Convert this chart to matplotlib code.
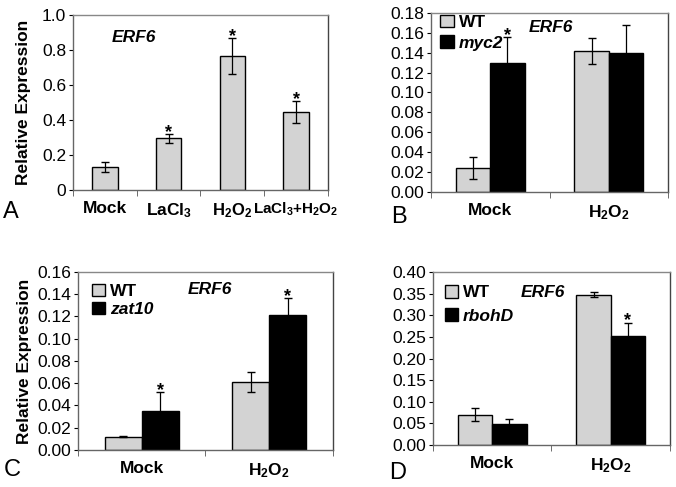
import matplotlib
matplotlib.use("Agg")
import matplotlib.pyplot as plt
import numpy as np

plt.rcParams["font.family"] = "Liberation Sans"
plt.rcParams["mathtext.fontset"] = "custom"
plt.rcParams["mathtext.rm"] = "Liberation Sans"
plt.rcParams["mathtext.bf"] = "Liberation Sans:bold"
plt.rcParams["mathtext.it"] = "Liberation Sans:italic"

GRAY = "#d3d3d3"
TICK_FS = 12.5
CAT_FS = 12.5

# ---- data -----------------------------------------------------------------
a_cats = ["Mock", r"$\mathbf{LaCl_3}$", r"$\mathbf{H_2O_2}$", r"$\mathbf{LaCl_3{+}H_2O_2}$"]
a_vals = [0.13, 0.296, 0.767, 0.443]
a_err = [0.028, 0.025, 0.102, 0.063]
a_star = [False, True, True, True]

pair_cats = ["Mock", r"$\mathbf{H_2O_2}$"]

b_wt, b_wt_err = [0.024, 0.142], [0.011, 0.013]
b_mut, b_mut_err = [0.130, 0.140], [0.026, 0.028]
b_star = [True, False]

c_wt, c_wt_err = [0.012, 0.061], [0.0006, 0.0087]
c_mut, c_mut_err = [0.035, 0.121], [0.017, 0.016]
c_star = [True, True]

d_wt, d_wt_err = [0.0695, 0.348], [0.015, 0.005]
d_mut, d_mut_err = [0.049, 0.251], [0.011, 0.032]
d_star = [False, True]


def style(ax, ncat, ymax, yticks, fmt):
    ax.set_xlim(-0.5, ncat - 0.5)
    ax.set_ylim(0, ymax)
    ax.set_yticks(yticks)
    ax.set_yticklabels([fmt(v) for v in yticks], fontsize=TICK_FS)
    ax.set_xticks(np.arange(ncat))
    ax.set_xticks(np.arange(ncat + 1) - 0.5, minor=True)
    ax.tick_params(axis="x", which="major", length=0, pad=8)
    ax.tick_params(axis="x", which="minor", length=4, color="#555555")
    ax.tick_params(axis="y", length=3, pad=2)
    ax.spines["top"].set_color("#888888")
    ax.spines["right"].set_color("#444444")
    ax.spines["left"].set_color("#666666")
    ax.spines["bottom"].set_color("#666666")
    for s in ax.spines.values():
        s.set_linewidth(1.0)


def pair_panel(ax, wt, wt_err, mut, mut_err, stars, mutname, ymax, yticks,
               fmt, erf_xy, leg_xy, leg_sp):
    x = np.arange(2)
    w = 0.29
    ax.bar(x - w / 2, wt, w, color=GRAY, edgecolor="black", linewidth=1.0,
           label="WT", zorder=2)
    ax.bar(x + w / 2, mut, w, color="black", edgecolor="black", linewidth=1.0,
           label=mutname, zorder=2)
    ax.errorbar(x - w / 2, wt, yerr=wt_err, fmt="none", ecolor="black",
                elinewidth=0.9, capsize=3, zorder=3)
    ax.errorbar(x + w / 2, mut, yerr=mut_err, fmt="none", ecolor="black",
                elinewidth=0.9, capsize=3, zorder=3)
    for i, s in enumerate(stars):
        if s:
            ax.text(x[i] + w / 2, mut[i] + mut_err[i] - ymax * 0.04, "*",
                    ha="center", va="bottom", fontsize=13, fontweight="bold")
    style(ax, 2, ymax, yticks, fmt)
    ax.set_xticklabels(pair_cats, fontsize=CAT_FS, fontweight="bold")
    ax.text(*erf_xy, "ERF6", transform=ax.transAxes, fontsize=12.5,
            fontweight="bold", style="italic", va="center")
    leg = ax.legend(loc="upper left", bbox_to_anchor=leg_xy, frameon=False,
                    handlelength=0.75, handleheight=0.75, handletextpad=0.3,
                    labelspacing=leg_sp, borderaxespad=0, borderpad=0,
                    prop={"size": 12.5, "weight": "bold"})
    leg.get_texts()[1].set_style("italic")


fig = plt.figure(figsize=(6.76, 4.87), dpi=100)

# ---- panel A --------------------------------------------------------------
axA = fig.add_axes([0.108, 0.610, 0.377, 0.359])
xa = np.arange(len(a_vals))
axA.bar(xa, a_vals, 0.4, color=GRAY, edgecolor="black", linewidth=1.0, zorder=2)
axA.errorbar(xa, a_vals, yerr=a_err, fmt="none", ecolor="black",
             elinewidth=0.9, capsize=3, zorder=3)
for i, s in enumerate(a_star):
    if s:
        axA.text(xa[i], a_vals[i] + a_err[i] - 0.04, "*", ha="center",
                 va="bottom", fontsize=13, fontweight="bold")
style(axA, 4, 1.0, [0, 0.2, 0.4, 0.6, 0.8, 1.0],
      lambda v: "0" if v == 0 else f"{v:.1f}")
axA.set_xticklabels(a_cats, fontsize=CAT_FS, fontweight="bold")
axA.get_xticklabels()[3].set_fontsize(11)
axA.get_xticklabels()[2].set_fontsize(12)
axA.set_ylabel("Relative Expression", fontsize=12.5, fontweight="bold",
               labelpad=8)
axA.text(0.153, 0.874, "ERF6", transform=axA.transAxes, fontsize=12.5,
         fontweight="bold", style="italic", va="center")

# ---- panel B --------------------------------------------------------------
axB = fig.add_axes([0.6376, 0.606, 0.3506, 0.3676])
pair_panel(axB, b_wt, b_wt_err, b_mut, b_mut_err, b_star, "myc2", 0.18,
           np.arange(0, 0.181, 0.02), lambda v: f"{v:.2f}", (0.41, 0.92),
           (0.04, 0.99), 0.3)

# ---- panel C --------------------------------------------------------------
axC = fig.add_axes([0.1154, 0.076, 0.377, 0.3655])
pair_panel(axC, c_wt, c_wt_err, c_mut, c_mut_err, c_star, "zat10", 0.16,
           np.arange(0, 0.161, 0.02), lambda v: f"{v:.2f}", (0.43, 0.90),
           (0.055, 0.935), 0.15)
axC.set_ylabel("Relative Expression", fontsize=12.5, fontweight="bold",
               labelpad=4)

# ---- panel D --------------------------------------------------------------
axD = fig.add_axes([0.6405, 0.0862, 0.3506, 0.3552])
pair_panel(axD, d_wt, d_wt_err, d_mut, d_mut_err, d_star, "rbohD", 0.40,
           np.arange(0, 0.401, 0.05), lambda v: f"{v:.2f}", (0.37, 0.88),
           (0.05, 0.925), 0.45)

# panel letters
for lbl, x, y in (("A", 0.005, 0.565), ("B", 0.578, 0.555),
                  ("C", 0.005, 0.035), ("D", 0.575, 0.028)):
    fig.text(x, y, lbl, fontsize=17, va="center")

fig.savefig("out.png", dpi=100)
